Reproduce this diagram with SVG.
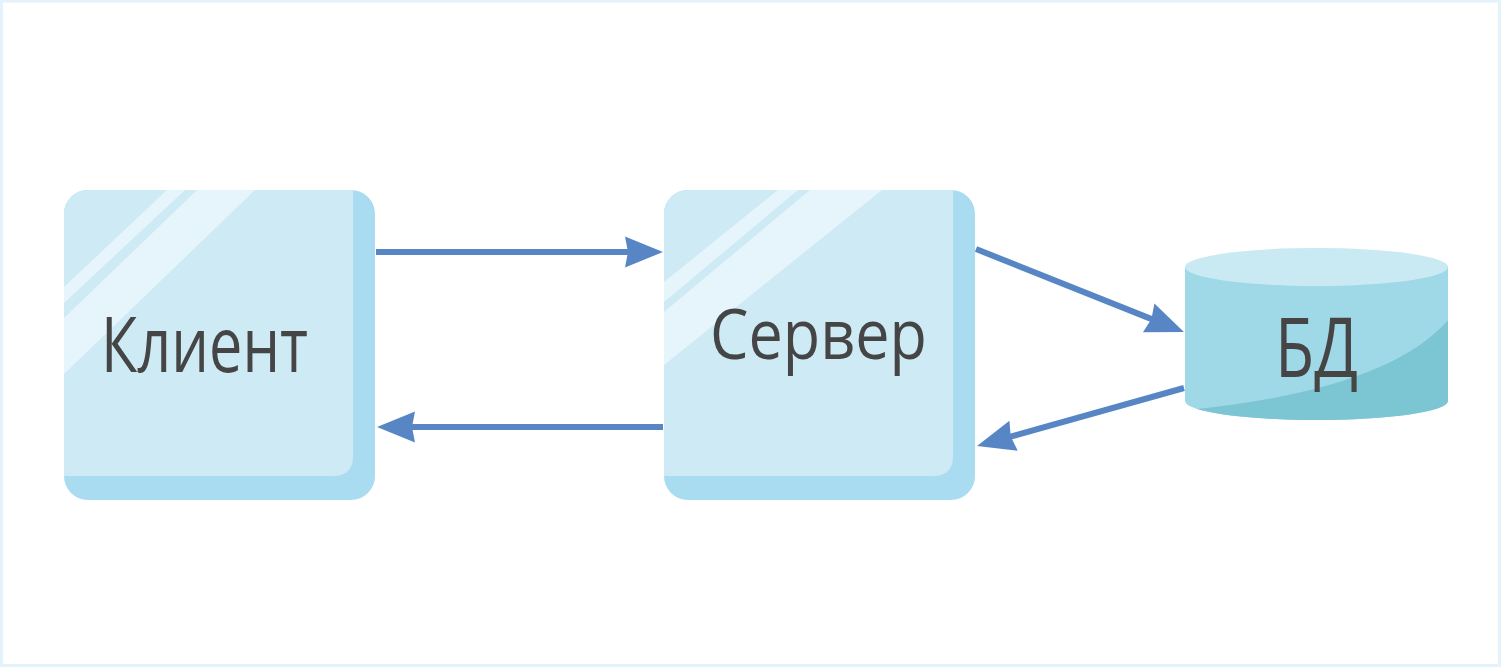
<svg xmlns="http://www.w3.org/2000/svg" xmlns:xlink="http://www.w3.org/1999/xlink" width="1501" height="667" viewBox="0 0 1501 667">
<style>
.side{fill:#a9dcf0}
.face{fill:#cdeaf5}
.shine{fill:#e6f5fc}
.lbl{font-family:"Open Sans","Noto Sans","DejaVu Sans",sans-serif;fill:#454545}
.conn{stroke:#5886c5;stroke-width:6;fill:none}
</style>
<defs>
<clipPath id="boxclip"><rect x="0" y="0" width="311" height="310" rx="24" ry="24"/></clipPath>
<g id="boxbase">
<rect class="side" x="0" y="0" width="311" height="310" rx="24" ry="24"/>
<path class="face" clip-path="url(#boxclip)" d="M0,0 H289 V266 Q289,286 269,286 H0 Z"/>
</g>
<clipPath id="cylclip"><path d="M1185,267 V401 A131.5,19 0 0 0 1448,401 V267 Z"/></clipPath>
<marker id="ah" markerUnits="userSpaceOnUse" markerWidth="42" markerHeight="34" viewBox="0 -17 42 34" refX="8" refY="0" orient="auto">
<path d="M0,-15.5 L38,0 L0,15.5 L3,0 Z" fill="#5886c5"/>
</marker>
</defs>
<rect x="1.5" y="1" width="1498" height="664.5" fill="#ffffff" stroke="#e3f2fb" stroke-width="3"/>
<g id="connectors">
<line class="conn" x1="376" y1="252" x2="633" y2="252" marker-end="url(#ah)"/>
<line class="conn" x1="663" y1="427" x2="407" y2="427" marker-end="url(#ah)"/>
<line class="conn" x1="976" y1="249" x2="1156.1" y2="320.9" marker-end="url(#ah)"/>
<line class="conn" x1="1184" y1="388" x2="1005.9" y2="437.9" marker-end="url(#ah)"/>
</g>
<g id="client" transform="translate(64,190)">
<use xlink:href="#boxbase" href="#boxbase"/>
<g clip-path="url(#boxclip)">
<polygon class="shine" points="103,0 121,0 0,113 0,97"/>
<polygon class="shine" points="133,0 191,0 0,184 0,128"/>
</g>
<text class="lbl" x="37" y="182" font-size="77" textLength="207" lengthAdjust="spacingAndGlyphs">Клиент</text>
</g>
<g id="server" transform="translate(664,190)">
<use xlink:href="#boxbase" href="#boxbase"/>
<g clip-path="url(#boxclip)">
<polygon class="shine" points="114,0 134,0 0,112 0,92"/>
<polygon class="shine" points="146,0 218,0 0,175 0,122"/>
</g>
<text class="lbl" x="46" y="169" font-size="69" textLength="217" lengthAdjust="spacingAndGlyphs">Сервер</text>
</g>
<g id="db">
<path d="M1185,267 V401 A131.5,19 0 0 0 1448,401 V267 Z" fill="#9fd8e6"/>
<path clip-path="url(#cylclip)" d="M1188,410 Q1390,390 1450,318 L1450,440 L1180,440 Z" fill="#7cc5d3"/>
<ellipse cx="1316.5" cy="267" rx="131.5" ry="19" fill="#c9eaf3"/>
<text class="lbl" x="1275" y="377" font-size="82" textLength="83" lengthAdjust="spacingAndGlyphs">БД</text>
</g>
</svg>
